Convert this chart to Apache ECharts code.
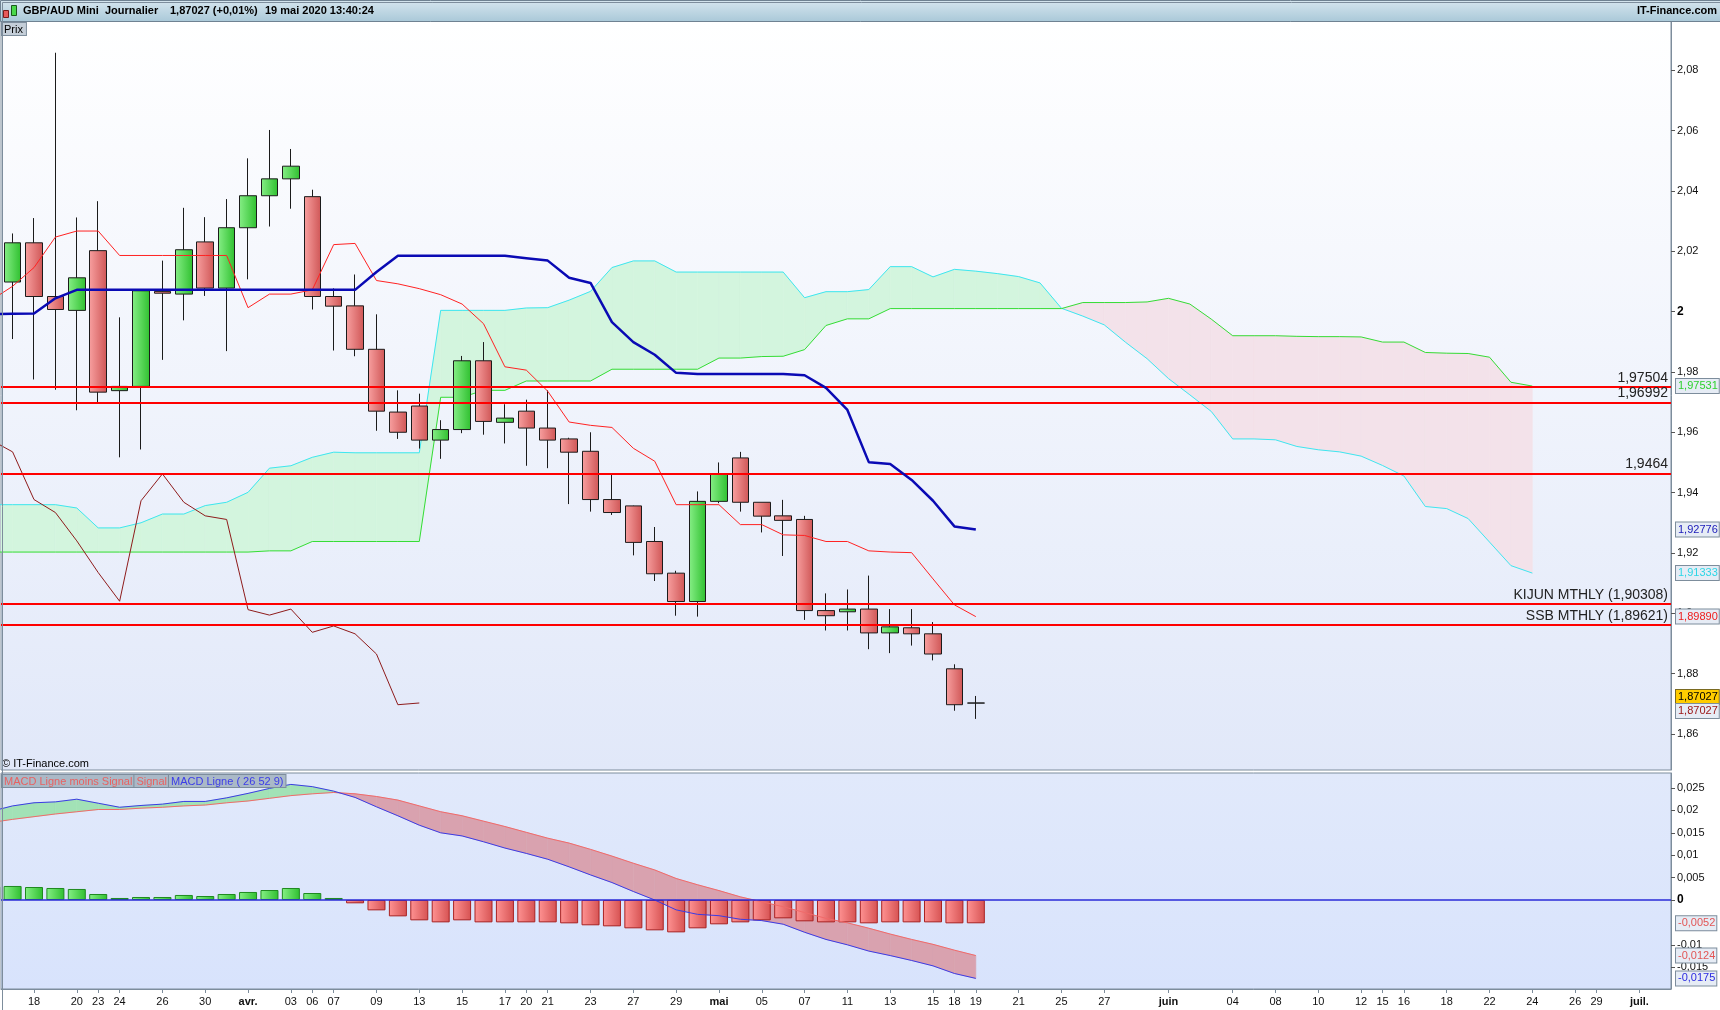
<!DOCTYPE html>
<html><head><meta charset="utf-8">
<script src="https://cdn.jsdelivr.net/npm/echarts@6/dist/echarts.min.js"></script>
<style>html,body{margin:0;padding:0;background:#fff;}#c{width:1720px;height:1010px;}</style>
</head><body><div id="c"></div>
<script>
// ---------- DATA (index 0 = 16 mars 2020, one index per trading day) ----------
const candleStart = 1;
const opens  = [2.0098,2.0228,2.0050,2.0004,2.0202,1.9738,1.9752,2.0067,2.0058,2.0231,2.0078,2.0278,2.0384,2.0440,2.0381,2.0050,2.0019,1.9875,1.9667,1.9687,1.9574,1.9609,1.9837,1.9633,1.9670,1.9614,1.9578,1.9537,1.9377,1.9356,1.9238,1.9133,1.9039,1.9371,1.9515,1.9368,1.9323,1.9311,1.9009,1.9005,1.9014,1.8935,1.8952,1.8932,1.8816,1.87024];
const closes = [2.0228,2.0050,2.0007,2.0112,1.9733,1.9752,2.0069,2.0061,2.0205,2.0078,2.0278,2.0384,2.0440,2.0482,2.0050,2.0018,1.9875,1.9670,1.9600,1.9574,1.9609,1.9837,1.9636,1.9647,1.9614,1.9574,1.9534,1.9377,1.9334,1.9235,1.9131,1.9039,1.9371,1.9462,1.9368,1.9322,1.9308,1.9009,1.8992,1.9014,1.8935,1.8955,1.8932,1.8865,1.8697,1.87027];
const lows   = [1.9909,1.9775,1.9741,1.9673,1.9694,1.9517,1.9543,1.9840,1.9971,2.0052,1.9869,2.0107,2.0282,2.0341,2.0007,1.9871,1.9852,1.9605,1.9578,1.9546,1.9512,1.9597,1.9592,1.9563,1.9489,1.9481,1.9362,1.9337,1.9326,1.9192,1.9107,1.8992,1.8989,1.9365,1.9337,1.9268,1.9190,1.8978,1.8943,1.8943,1.8881,1.8868,1.8893,1.8844,1.8677,1.8650];
const highs  = [2.0259,2.0310,2.0858,2.0312,2.0366,1.9981,2.0072,2.0169,2.0344,2.0313,2.0373,2.0508,2.0602,2.0539,2.0404,2.0077,2.0123,1.9991,1.9739,1.9728,1.9640,1.9853,1.9899,1.9693,1.9708,1.9739,1.9582,1.9600,1.9461,1.9357,1.9286,1.9141,1.9404,1.9500,1.9535,1.9368,1.9376,1.9323,1.9066,1.9079,1.9125,1.9014,1.9014,1.8971,1.8831,1.8726];

const tenkan = [2.0038,2.0084,2.0146,2.0247,2.0267,2.0267,2.0186,2.0186,2.0186,2.0186,2.0186,2.0186,2.0013,2.0058,2.0058,2.0072,2.0222,2.0226,2.0103,2.0092,2.0076,2.0056,2.0025,1.9960,1.9817,1.9806,1.9736,1.9634,1.9623,1.9616,1.9547,1.9504,1.9360,1.9360,1.9360,1.9294,1.9294,1.9260,1.9258,1.9238,1.9238,1.9207,1.9203,1.9201,1.9114,1.9028,1.89890];
const kijun  = [1.9991,1.9993,1.9994,2.0044,2.0072,2.0072,2.0072,2.0072,2.0072,2.0072,2.0072,2.0072,2.0072,2.0072,2.0072,2.0072,2.0072,2.0072,2.0131,2.0185,2.0185,2.0185,2.0185,2.0185,2.0185,2.0177,2.0169,2.0112,2.0095,1.9965,1.9899,1.9857,1.9797,1.9793,1.9793,1.9793,1.9793,1.9793,1.9789,1.9747,1.9674,1.9501,1.9495,1.9442,1.9373,1.9288,1.92776];
const chikou = [1.9574,1.9535,1.9377,1.9334,1.9240,1.9135,1.9040,1.9373,1.9462,1.9368,1.9323,1.9311,1.9012,1.8994,1.9014,1.8937,1.8958,1.8932,1.8865,1.8697,1.87027];
const ssa = [1.9360,1.9360,1.9360,1.9360,1.9349,1.9283,1.9283,1.9300,1.9329,1.9329,1.9357,1.9368,1.9401,1.9481,1.9489,1.9517,1.9534,1.9532,1.9532,1.9532,1.9532,2.0004,2.0004,2.0004,2.0004,2.0012,2.0013,2.0038,2.0067,2.0146,2.0168,2.0168,2.0131,2.0131,2.0131,2.0131,2.0131,2.0131,2.0046,2.0066,2.0066,2.0073,2.0149,2.0149,2.0115,2.0140,2.0134,2.0126,2.0116,2.0095,2.0011,1.9985,1.9956,1.9898,1.9844,1.9778,1.9724,1.9669,1.9578,1.9578,1.9575,1.9553,1.9542,1.9535,1.9521,1.9490,1.9455,1.9354,1.9347,1.9314,1.9236,1.9158,1.91333];
const ssb = [1.9203,1.9203,1.9203,1.9203,1.9203,1.9203,1.9203,1.9203,1.9203,1.9203,1.9203,1.9203,1.9203,1.9207,1.9207,1.9238,1.9238,1.9238,1.9238,1.9238,1.9238,1.9716,1.9716,1.9739,1.9739,1.9770,1.9770,1.9770,1.9770,1.9809,1.9809,1.9809,1.9809,1.9809,1.9846,1.9846,1.9851,1.9852,1.9874,1.9954,1.9976,1.9976,2.0010,2.0010,2.0010,2.0010,2.0010,2.0010,2.0010,2.0010,2.0010,2.0030,2.0030,2.0030,2.0032,2.0044,2.0025,1.9975,1.9920,1.9920,1.9920,1.9918,1.9917,1.9917,1.9916,1.9899,1.9899,1.98645,1.98621,1.98611,1.98488,1.97658,1.97531];

const macdLine = [0.0198,0.0210,0.0217,0.0219,0.0225,0.0216,0.0207,0.0211,0.0214,0.0220,0.0220,0.0228,0.0238,0.0249,0.0258,0.0253,0.0243,0.0229,0.0208,0.0188,0.0167,0.0150,0.0143,0.0130,0.0116,0.0104,0.0091,0.0074,0.0056,0.0039,0.0019,0.0000,-0.0022,-0.0032,-0.0035,-0.0043,-0.0046,-0.0054,-0.0072,-0.0088,-0.0100,-0.0114,-0.0124,-0.0135,-0.0147,-0.0164,-0.0175];
const signalLine = [0.0173,0.0180,0.0186,0.0192,0.0197,0.0202,0.0202,0.0205,0.0207,0.0210,0.0212,0.0217,0.0221,0.0227,0.0233,0.0237,0.0240,0.0237,0.0231,0.0223,0.0210,0.0197,0.0188,0.0176,0.0164,0.0151,0.0138,0.0127,0.0113,0.0098,0.0082,0.0067,0.0048,0.0034,0.0021,0.0007,-0.0004,-0.0015,-0.0028,-0.0041,-0.0051,-0.0063,-0.0076,-0.0088,-0.0099,-0.0112,-0.0124];
const histo = [0.0030,0.00313,0.00290,0.00268,0.00246,0.00134,0.00045,0.00067,0.00067,0.00112,0.00089,0.00134,0.00179,0.00223,0.00268,0.00156,0.00045,-0.00074,-0.00231,-0.00365,-0.00454,-0.00499,-0.00454,-0.00499,-0.00499,-0.00499,-0.00499,-0.00521,-0.00565,-0.00588,-0.00632,-0.00677,-0.00722,-0.00632,-0.00543,-0.00499,-0.00454,-0.00409,-0.00476,-0.00499,-0.00499,-0.00521,-0.00499,-0.00499,-0.00499,-0.00521,-0.0052];

const levels = [1.97504,1.96992,1.9464,1.90308,1.89621];
const levelLabels = ['1,97504','1,96992','1,9464','KIJUN MTHLY (1,90308)','SSB MTHLY (1,89621)'];

const xTickIdx = [2,4,5,6,8,10,12,14,15,16,18,20,22,24,25,26,28,30,32,34,36,38,40,42,44,45,46,48,50,52,55,58,60,62,64,65,66,68,70,72,74,75,77];
const xTickLabels = ['18','20','23','24','26','30','avr.','03','06','07','09','13','15','17','20','21','23','27','29','mai','05','07','11','13','15','18','19','21','25','27','juin','04','08','10','12','15','16','18','22','24','26','29','juil.'];
const priceTicks = [1.86,1.88,1.90,1.92,1.94,1.96,1.98,2.00,2.02,2.04,2.06,2.08];
const macdTicks = [-0.015,-0.01,0,0.005,0.01,0.015,0.02,0.025];

// ---------- LAYOUT ----------
const XMIN = 0.4583, XMAX = 78.477;
const PMIN = 1.84806, PMAX = 2.09632;
const MMIN = -0.019866, MMAX = 0.028348;
const FONT = '"Liberation Sans", Arial, sans-serif';

const chart = echarts.init(document.getElementById('c'));
const LG = (x0,y0,x1,y1,c0,c1) => new echarts.graphic.LinearGradient(x0,y0,x1,y1,[{offset:0,color:c0},{offset:1,color:c1}]);

const pts = arr => arr.map((v,i) => [i, v]);
const candleData = opens.map((o,k) => [k + candleStart, o, closes[k], lows[k], highs[k]]);
const xLabelMap = {}; xTickIdx.forEach((v,k) => xLabelMap[v] = xTickLabels[k]);

function makeFill(A, B, pos, neg) {
  return function (params, api) {
    const i = params.dataIndex;
    const a0 = A[i], b0 = B[i], a1 = A[i+1], b1 = B[i+1];
    const d0 = a0 - b0, d1 = a1 - b1;
    const p = (x, y) => api.coord([x, y]);
    const children = [];
    const poly = (points, c) => children.push({type:'polygon', shape:{points}, style:{fill:c, stroke:c, lineWidth:0.6}});
    if (d0 * d1 >= 0) {
      poly([p(i,a0), p(i+1,a1), p(i+1,b1), p(i,b0)], (d0 + d1) >= 0 ? pos : neg);
    } else {
      const t = d0 / (d0 - d1), xc = i + t, yc = a0 + t * (a1 - a0);
      poly([p(i,a0), p(xc,yc), p(i,b0)], d0 > 0 ? pos : neg);
      poly([p(xc,yc), p(i+1,a1), p(i+1,b1)], d1 > 0 ? pos : neg);
    }
    const cs = params.coordSys;
    return {type:'group', children, clipPath:{type:'rect', shape:{x:cs.x, y:cs.y, width:cs.width, height:cs.height}}};
  };
}

function tagLabel(txt, color, bg, offY) {
  return {show:true, position:'end', formatter: txt, color: color, backgroundColor: bg || '#e6ecf5',
    borderColor:'#7d8d9c', borderWidth:1, padding:[2,1,1,2], fontSize:11, fontFamily:FONT, offset:[0, offY || 0], distance:5};
}
const pf = v => v.toFixed(5).replace('.', ',');
const mf = v => v.toFixed(4).replace('.', ',');

const last = a => a[a.length - 1];
const priceTags = [
  {yAxis: last(ssb), label: tagLabel(pf(last(ssb)), '#2ed12e')},
  {yAxis: last(kijun), label: tagLabel(pf(last(kijun)), '#1a1ab8')},
  {yAxis: last(ssa), label: tagLabel(pf(last(ssa)), '#2cd6e6')},
  {yAxis: last(tenkan), label: tagLabel(pf(last(tenkan)), '#ee1c1c')},
  {yAxis: last(closes), label: Object.assign(tagLabel(pf(last(closes)), '#000', '#ffcc00', -6), {borderColor:'#7a6a20'})},
  {yAxis: last(chikou), label: tagLabel(pf(last(chikou)), '#9a1414', null, 8)}
];
const macdTags = [
  {yAxis: last(histo), label: tagLabel(mf(last(histo)), '#e25555')},
  {yAxis: last(signalLine), label: tagLabel(mf(last(signalLine)), '#e25555')},
  {yAxis: last(macdLine), label: tagLabel(mf(last(macdLine)), '#2b2be0')}
];

const histData = histo.map((v,i) => ({
  value: [i, v],
  itemStyle: v >= 0
    ? {color: LG(0,0,1,0,'#86f086','#2fbf2f'), borderColor:'#1f8a1f', borderWidth:1}
    : {color: LG(0,0,1,0,'#ff9393','#d65252'), borderColor:'#a82222', borderWidth:1}
}));

const lineS = (name, data, color, width, xi, yi, z) => ({
  name, type:'line', data: pts(data), xAxisIndex: xi, yAxisIndex: yi, symbol:'none', showSymbol:false,
  lineStyle:{color, width}, z: z || 4, silent:true, clip:true
});

const option = {
  animation: false,
  backgroundColor: '#ffffff',
  textStyle: {fontFamily: FONT},
  grid: [
    {left:1, right:49, top:21, height:749, show:true, backgroundColor: LG(0,0,0,1,'#ffffff','#e1e8f9'), borderColor:'#7d8d9c', borderWidth:1},
    {left:1, right:49, top:773, height:216, show:true, backgroundColor: LG(0,0,0,1,'#e1e9fb','#d8e3fc'), borderColor:'#7d8d9c', borderWidth:1}
  ],
  xAxis: [
    {type:'value', gridIndex:0, min:XMIN, max:XMAX, show:false},
    {type:'value', gridIndex:1, min:XMIN, max:XMAX, position:'bottom',
     axisLine:{show:true, onZero:false, lineStyle:{color:'#7d8d9c'}},
     axisTick:{show:true, customValues:xTickIdx, length:4, lineStyle:{color:'#7d8d9c'}},
     axisLabel:{show:true, customValues:xTickIdx, color:'#111', fontSize:11, margin:7, fontFamily:FONT,
       formatter: v => { const s = xLabelMap[Math.round(v)] || ''; return /^[a-z]/.test(s) ? '{b|' + s + '}' : s; },
       rich:{b:{fontWeight:'bold', fontSize:11, color:'#111', fontFamily:FONT}}},
     splitLine:{show:false}}
  ],
  yAxis: [
    {type:'value', gridIndex:0, position:'right', min:PMIN, max:PMAX,
     axisLine:{show:true, onZero:false, lineStyle:{color:'#7d8d9c'}},
     axisTick:{show:true, customValues:priceTicks, length:4, lineStyle:{color:'#555'}},
     axisLabel:{customValues:priceTicks, color:'#111', fontSize:11, margin:6, fontFamily:FONT,
       formatter: v => { const s = parseFloat(v.toFixed(2)); return s === 2 ? '{b|2}' : String(s).replace('.', ','); },
       rich:{b:{fontWeight:'bold', fontSize:12, color:'#000', fontFamily:FONT}}},
     splitLine:{show:false}},
    {type:'value', gridIndex:1, position:'right', min:MMIN, max:MMAX,
     axisLine:{show:true, onZero:false, lineStyle:{color:'#7d8d9c'}},
     axisTick:{show:true, customValues:macdTicks, length:4, lineStyle:{color:'#555'}},
     axisLabel:{customValues:macdTicks, color:'#111', fontSize:11, margin:6, fontFamily:FONT,
       formatter: v => { const s = parseFloat(v.toFixed(3)); return s === 0 ? '{b|0}' : String(s).replace('.', ','); },
       rich:{b:{fontWeight:'bold', fontSize:12, color:'#000', fontFamily:FONT}}},
     splitLine:{show:false}}
  ],
  series: [
    {type:'custom', name:'nuage', xAxisIndex:0, yAxisIndex:0, z:1, silent:true, clip:true,
     renderItem: makeFill(ssa, ssb, '#d3f5de', '#f3e2ea'),
     data: ssa.slice(1).map((_, i) => [i, ssa[i], ssb[i]]), encode:{x:0, y:[1,2]}},
    lineS('SSA', ssa, '#3de6f0', 1, 0, 0, 2),
    lineS('SSB', ssb, '#35dc35', 1, 0, 0, 2),
    {type:'candlestick', name:'GBP/AUD', xAxisIndex:0, yAxisIndex:0, z:3, silent:true, barWidth:17,
     data: candleData, encode:{x:0, y:[1,2,3,4]},
     itemStyle:{color: LG(0,0,1,0,'#86ee86','#2fc02f'), color0: LG(0,0,1,0,'#f8a0a0','#cf5656'),
       borderColor:'#1b1b1b', borderColor0:'#1b1b1b', borderWidth:1}},
    lineS('Chikou', chikou, '#8e1b1b', 1, 0, 0, 4),
    lineS('Tenkan', tenkan, '#ff2222', 1, 0, 0, 4),
    lineS('Kijun', kijun, '#0a0ab4', 2.5, 0, 0, 5),
    {type:'line', name:'niveaux', xAxisIndex:0, yAxisIndex:0, data:[], z:8, silent:true,
     markLine:{silent:true, precision:6, symbol:['none','none'], animation:false,
       lineStyle:{color:'#ff0000', width:2, type:'solid'},
       label:{show:true, position:'insideEndTop', color:'#222', fontSize:14, fontFamily:FONT, distance:[3,2]},
       data: levels.map((v,k) => ({yAxis:v, label:{formatter: levelLabels[k]}}))}},
    {type:'line', name:'tagsPrix', xAxisIndex:0, yAxisIndex:0, data:[], z:9, silent:true,
     markLine:{silent:true, precision:6, symbol:['none','none'], animation:false,
       lineStyle:{color:'rgba(0,0,0,0)', width:0}, data: priceTags}},
    // MACD pane
    {type:'custom', name:'macdFill', xAxisIndex:1, yAxisIndex:1, z:1, silent:true, clip:true,
     renderItem: makeFill(macdLine, signalLine, '#a2e2b6', '#d9a2af'),
     data: macdLine.slice(1).map((_, i) => [i, macdLine[i], signalLine[i]]), encode:{x:0, y:[1,2]}},
    {type:'bar', name:'MACD Ligne moins Signal', xAxisIndex:1, yAxisIndex:1, data: histData, barWidth:18, z:2, silent:true,
     markLine:{silent:true, precision:6, symbol:['none','none'], animation:false, label:{show:false},
       lineStyle:{color:'#2a2ad8', width:1.5, type:'solid'}, data:[{yAxis:0}]}},
    lineS('Signal', signalLine, '#f06a6a', 1, 1, 1, 4),
    lineS('MACD Ligne', macdLine, '#3b3be4', 1, 1, 1, 4),
    {type:'line', name:'tagsMacd', xAxisIndex:1, yAxisIndex:1, data:[], z:9, silent:true,
     markLine:{silent:true, precision:6, symbol:['none','none'], animation:false,
       lineStyle:{color:'rgba(0,0,0,0)', width:0}, data: macdTags}}
  ],
  graphic: [
    {type:'rect', left:0, top:0, shape:{width:1720, height:21}, style:{fill: LG(0,0,0,1,'#d6e6ef','#a9c8d8'), stroke:'#6f8292', lineWidth:1}, z:10},
    {type:'rect', left:3, top:10, shape:{width:5, height:7}, style:{fill:'#e85a5a', stroke:'#7a1a1a', lineWidth:1}, z:11},
    {type:'rect', left:11, top:5, shape:{width:5, height:10}, style:{fill:'#4ad84a', stroke:'#1a5a1a', lineWidth:1}, z:11},
    {type:'text', left:23, top:5, style:{text:'GBP/AUD Mini', font:'bold 11px ' + FONT, fill:'#000'}, z:11},
    {type:'text', left:105, top:5, style:{text:'Journalier', font:'bold 11px ' + FONT, fill:'#000'}, z:11},
    {type:'text', left:170, top:5, style:{text:'1,87027 (+0,01%)', font:'bold 11px ' + FONT, fill:'#000'}, z:11},
    {type:'text', left:265, top:5, style:{text:'19 mai 2020 13:40:24', font:'bold 11px ' + FONT, fill:'#000'}, z:11},
    {type:'text', right:3, top:5, style:{text:'IT-Finance.com', font:'bold 11px ' + FONT, fill:'#000'}, z:11},
    {type:'text', left:1, top:22, style:{text:'Prix', font:'11px ' + FONT, fill:'#000', backgroundColor:'#c4ced8', borderColor:'#7d8d9c', borderWidth:1, padding:[1,3,0,2]}, z:11},
    {type:'text', left:2, top:758, style:{text:'© IT-Finance.com', font:'11px ' + FONT, fill:'#000'}, z:11},
    {type:'text', left:1, top:774, z:11, style:{
      text:'{a|MACD Ligne moins Signal}{s|Signal}{m|MACD Ligne ( 26 52 9)}', font:'11px ' + FONT,
      rich:{
        a:{fill:'#e86262', backgroundColor:'#aab9c7', borderColor:'#7d8d9c', borderWidth:1, padding:[1,2,0,2], font:'11px ' + FONT},
        s:{fill:'#e86262', backgroundColor:'#aab9c7', borderColor:'#7d8d9c', borderWidth:1, padding:[1,2,0,2], font:'11px ' + FONT},
        m:{fill:'#3c3ce8', backgroundColor:'#aab9c7', borderColor:'#7d8d9c', borderWidth:1, padding:[1,2,0,2], font:'11px ' + FONT}
      }}},
    {type:'rect', left:0, top:0, shape:{width:1719, height:1009}, style:{fill:'none', stroke:'#7d8d9c', lineWidth:1}, z:12, silent:true}
  ]
};
chart.setOption(option);
</script></body></html>
